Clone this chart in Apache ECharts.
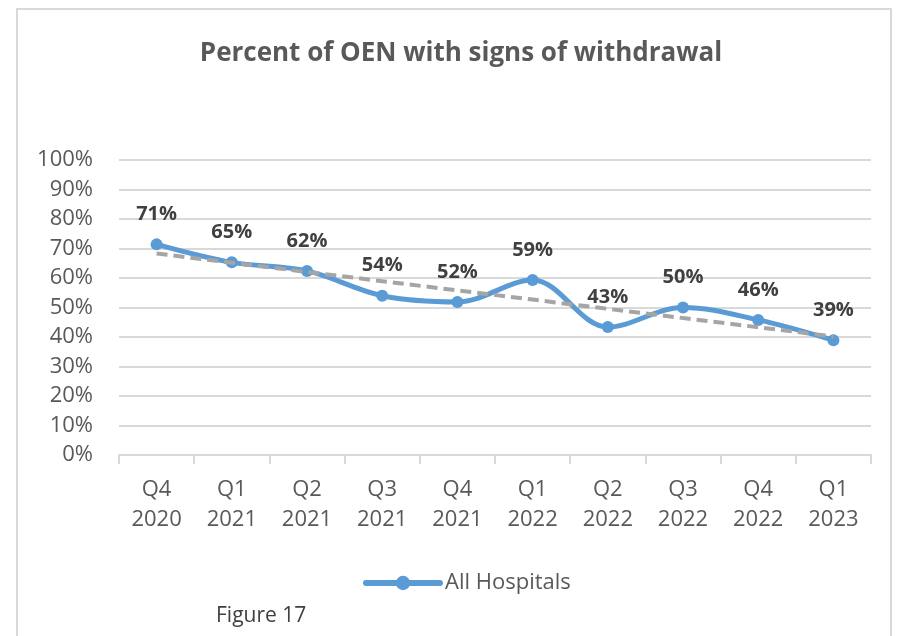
<!DOCTYPE html>
<html>
<head>
<meta charset="utf-8">
<script src="https://cdn.jsdelivr.net/npm/echarts@6/dist/echarts.min.js"></script>
<style>
  html, body { margin: 0; padding: 0; background: #fff; }
  #chart { width: 903px; height: 636px; }
</style>
</head>
<body>
<div id="chart"></div>
<script>
// 数据
const quarters = ['Q4\n2020', 'Q1\n2021', 'Q2\n2021', 'Q3\n2021', 'Q4\n2021',
                  'Q1\n2022', 'Q2\n2022', 'Q3\n2022', 'Q4\n2022', 'Q1\n2023'];
const allHospitals = [71.4, 65.3, 62.4, 54.0, 51.9, 59.3, 43.4, 50.0, 45.8, 38.9];
const yTicks = [0, 10, 20, 30, 40, 50, 60, 70, 80, 90, 100];

// linear trendline (least squares) from the series itself
function linearFit(vals) {
  const n = vals.length;
  let sx = 0, sy = 0, sxy = 0, sxx = 0;
  vals.forEach((v, i) => { sx += i; sy += v; sxy += i * v; sxx += i * i; });
  const slope = (n * sxy - sx * sy) / (n * sxx - sx * sx);
  const icpt = (sy - slope * sx) / n;
  return vals.map((v, i) => +(icpt + slope * i).toFixed(2));
}
const trend = linearFit(allHospitals);

const font = '"Open Sans", sans-serif';

let myChart = echarts.init(document.getElementById('chart'));
myChart.setOption({
  animation: false,
  title: {
    text: 'Percent of OEN with signs of withdrawal',
    left: 456,
    top: 36,
    textAlign: 'center',
    textStyle: { color: '#595959', fontSize: 26, fontWeight: 'bold', fontFamily: font }
  },
  graphic: [{
    type: 'rect',
    shape: { x: 17, y: 9, width: 874, height: 640 },
    style: { fill: 'none', stroke: '#D9D9D9', lineWidth: 2 },
    silent: true
  }, {
    type: 'text',
    left: 216,
    top: 606,
    style: { text: 'Figure 17', fill: '#404040', font: '21px "Open Sans", sans-serif' }
  }],
  legend: {
    data: ['All Hospitals'],
    left: 358,
    top: 567,
    itemWidth: 74,
    itemHeight: 18,
    itemGap: 4,
    lineStyle: { width: 6, cap: 'round' },
    itemStyle: { color: '#5B9BD5' },
    textStyle: { color: '#595959', fontSize: 22, fontFamily: font }
  },
  grid: { left: 119, right: 32, top: 160, bottom: 181 },
  xAxis: {
    type: 'category',
    data: quarters,
    boundaryGap: true,
    axisLine: { lineStyle: { color: '#D9D9D9', width: 2 } },
    axisTick: { show: true, length: 9, lineStyle: { color: '#D9D9D9', width: 2 } },
    axisLabel: { color: '#595959', fontSize: 22, fontFamily: font, lineHeight: 30, margin: 20 }
  },
  yAxis: {
    type: 'value',
    min: yTicks[0],
    max: yTicks[yTicks.length - 1],
    interval: 10,
    axisLine: { show: false },
    axisTick: { show: false },
    splitLine: { lineStyle: { color: '#D9D9D9', width: 2 } },
    axisLabel: { color: '#595959', fontSize: 22, fontFamily: font, margin: 26, formatter: '{value}%' }
  },
  series: [{
    name: 'All Hospitals',
    type: 'line',
    data: allHospitals,
    smooth: 0.35,
    symbol: 'circle',
    symbolSize: 12,
    itemStyle: { color: '#5B9BD5' },
    lineStyle: { color: '#5B9BD5', width: 5 },
    label: {
      show: true,
      position: 'top',
      distance: 14,
      color: '#404040',
      fontSize: 20,
      fontWeight: 'bold',
      fontFamily: font,
      formatter: p => Math.round(p.value) + '%'
    },
    z: 2
  }, {
    name: 'Trend',
    type: 'line',
    data: trend,
    symbol: 'none',
    lineStyle: { color: '#A5A5A5', width: 4, type: [11, 6] },
    silent: true,
    z: 3
  }]
});
</script>
</body>
</html>
